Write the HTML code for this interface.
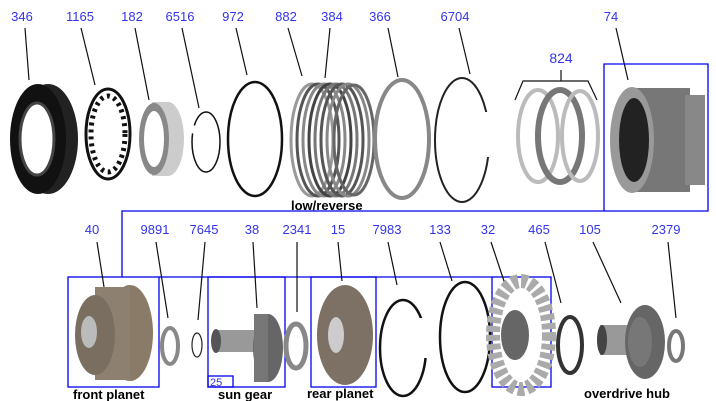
<!DOCTYPE html>
<html><head><meta charset="utf-8"><style>
html,body{margin:0;padding:0;background:#fff;}
svg{display:block;}
.l{font-family:"Liberation Sans",sans-serif;font-size:13px;fill:#3333ee;}
.b{font-family:"Liberation Sans",sans-serif;font-size:13px;font-weight:bold;fill:#000;}
.ld{stroke:#111;stroke-width:1.2;fill:none;}
.bx{stroke:#0000ee;stroke-width:1.3;fill:none;}
</style></head><body>
<svg width="716" height="401" viewBox="0 0 716 401">
<!-- top labels -->
<g class="l" text-anchor="middle">
<text x="22" y="21">346</text><text x="80" y="21">1165</text><text x="132" y="21">182</text>
<text x="180" y="21">6516</text><text x="233" y="21">972</text><text x="286" y="21">882</text>
<text x="332" y="21">384</text><text x="380" y="21">366</text><text x="455" y="21">6704</text>
<text x="561" y="63" style="font-size:14px">824</text><text x="611" y="21">74</text>
</g>
<!-- top leaders -->
<g class="ld">
<line x1="25" y1="28" x2="29" y2="80"/><line x1="81" y1="28" x2="95" y2="85"/>
<line x1="135" y1="28" x2="149" y2="100"/><line x1="182" y1="28" x2="199" y2="108"/>
<line x1="236" y1="28" x2="247" y2="75"/><line x1="288" y1="28" x2="302" y2="76"/>
<line x1="330" y1="28" x2="325" y2="78"/><line x1="388" y1="28" x2="398" y2="77"/>
<line x1="459" y1="28" x2="470" y2="74"/><line x1="616" y1="28" x2="628" y2="80"/>
<polyline points="515,100 523,81 588,81 597,100"/><line x1="561" y1="70" x2="561" y2="81"/>
</g>
<!-- 346 seal -->
<ellipse cx="48" cy="139" rx="30" ry="55" fill="#222"/>
<ellipse cx="38" cy="139" rx="28" ry="55" fill="#111"/>
<ellipse cx="37" cy="139" rx="17" ry="36" fill="#fff" stroke="#444" stroke-width="3"/>
<!-- 1165 -->
<ellipse cx="108" cy="134" rx="22" ry="45" fill="none" stroke="#111" stroke-width="3"/>
<ellipse cx="108" cy="134" rx="17" ry="38" fill="none" stroke="#111" stroke-width="5" stroke-dasharray="3,4"/>
<!-- 182 -->
<ellipse cx="168" cy="139" rx="16" ry="37" fill="#ccc"/>
<rect x="152" y="102" width="16" height="74" fill="#ccc"/>
<ellipse cx="154" cy="139" rx="15" ry="36" fill="#888"/>
<ellipse cx="154" cy="139" rx="10" ry="28" fill="#fff"/>
<!-- 6516 -->
<ellipse cx="206" cy="142" rx="14" ry="30" fill="none" stroke="#111" stroke-width="1.5" stroke-dasharray="80,8"/>
<!-- 972 -->
<ellipse cx="255" cy="139" rx="27" ry="57" fill="none" stroke="#111" stroke-width="2.5"/>
<!-- clutch pack -->
<g fill="none" stroke-width="3">
<ellipse cx="312" cy="140" rx="21" ry="56" stroke="#999"/>
<ellipse cx="318" cy="140" rx="21" ry="56" stroke="#555"/>
<ellipse cx="324" cy="140" rx="21" ry="56" stroke="#888"/>
<ellipse cx="330" cy="140" rx="21" ry="56" stroke="#444"/>
<ellipse cx="336" cy="140" rx="21" ry="56" stroke="#777"/>
<ellipse cx="342" cy="140" rx="21" ry="56" stroke="#555"/>
<ellipse cx="348" cy="140" rx="21" ry="56" stroke="#888"/>
<ellipse cx="354" cy="140" rx="20" ry="55" stroke="#666"/>
</g>
<!-- 366 -->
<ellipse cx="402" cy="139" rx="27" ry="59" fill="none" stroke="#888" stroke-width="4"/>
<!-- 6704 -->
<ellipse cx="462" cy="140" rx="27" ry="62" fill="none" stroke="#222" stroke-width="2"/>
<rect x="480" y="112" width="12" height="45" fill="#fff"/>
<!-- 824 -->
<g fill="none">
<ellipse cx="538" cy="136" rx="20" ry="46" stroke="#bbb" stroke-width="4"/>
<ellipse cx="560" cy="136" rx="22" ry="46" stroke="#777" stroke-width="6"/>
<ellipse cx="580" cy="136" rx="18" ry="45" stroke="#bbb" stroke-width="4"/>
</g>
<!-- 74 drum -->
<rect x="630" y="88" width="60" height="104" fill="#777"/>
<rect x="685" y="95" width="20" height="90" fill="#888"/>
<ellipse cx="632" cy="140" rx="22" ry="53" fill="#999"/>
<ellipse cx="634" cy="140" rx="15" ry="42" fill="#222"/>
<!-- blue lines -->
<g class="bx">
<polyline points="604,211 604,64 708,64 708,211 122,211 122,277"/>
<rect x="68" y="277" width="91" height="110"/>
<rect x="208" y="277" width="77" height="110"/>
<rect x="208" y="376" width="25" height="11"/>
<rect x="311" y="277" width="65" height="110"/>
<rect x="492" y="277" width="59" height="110"/>
<line x1="159" y1="277" x2="492" y2="277"/>
</g>
<text class="l" x="210" y="386" style="font-size:11px">25</text>
<!-- bottom labels -->
<g class="l" text-anchor="middle">
<text x="92" y="234">40</text><text x="155" y="234">9891</text><text x="204" y="234">7645</text>
<text x="252" y="234">38</text><text x="297" y="234">2341</text><text x="338" y="234">15</text>
<text x="387" y="234">7983</text><text x="440" y="234">133</text><text x="488" y="234">32</text>
<text x="539" y="234">465</text><text x="590" y="234">105</text><text x="666" y="234">2379</text>
</g>
<g class="ld">
<line x1="97" y1="242" x2="104" y2="287"/><line x1="156" y1="242" x2="168" y2="318"/>
<line x1="205" y1="242" x2="198" y2="320"/><line x1="253" y1="242" x2="257" y2="308"/>
<line x1="297" y1="242" x2="297" y2="312"/><line x1="338" y1="242" x2="342" y2="281"/>
<line x1="388" y1="242" x2="397" y2="285"/><line x1="440" y1="242" x2="452" y2="281"/>
<line x1="491" y1="242" x2="505" y2="284"/><line x1="545" y1="242" x2="561" y2="303"/>
<line x1="593" y1="242" x2="621" y2="303"/><line x1="668" y1="242" x2="676" y2="318"/>
</g>
<!-- front planet -->
<ellipse cx="130" cy="333" rx="23" ry="48" fill="#8a7a68"/>
<rect x="95" y="287" width="35" height="93" fill="#8d8070"/>
<ellipse cx="95" cy="335" rx="20" ry="40" fill="#7a6e60"/>
<ellipse cx="89" cy="332" rx="8" ry="16" fill="#bbb"/>
<!-- 9891 -->
<ellipse cx="170" cy="346" rx="8" ry="18" fill="none" stroke="#888" stroke-width="4"/>
<!-- 7645 -->
<ellipse cx="197" cy="345" rx="5" ry="12" fill="none" stroke="#222" stroke-width="1.2"/>
<!-- sun gear -->
<rect x="215" y="330" width="40" height="22" fill="#999"/>
<ellipse cx="216" cy="341" rx="5" ry="12" fill="#555"/>
<ellipse cx="268" cy="348" rx="15" ry="34" fill="#666"/>
<rect x="254" y="314" width="14" height="68" fill="#777"/>
<!-- 2341 -->
<ellipse cx="296" cy="346" rx="10" ry="22" fill="none" stroke="#888" stroke-width="5"/>
<!-- rear planet -->
<ellipse cx="345" cy="335" rx="28" ry="50" fill="#7d7064"/>
<ellipse cx="336" cy="335" rx="8" ry="18" fill="#ccc"/>
<!-- 7983 -->
<ellipse cx="403" cy="348" rx="23" ry="48" fill="none" stroke="#111" stroke-width="2.5"/>
<rect x="418" y="318" width="12" height="40" fill="#fff"/>
<!-- 133 -->
<ellipse cx="465" cy="337" rx="25" ry="55" fill="none" stroke="#111" stroke-width="2.5"/>
<!-- 32 -->
<ellipse cx="521" cy="335" rx="28" ry="54" fill="none" stroke="#aaa" stroke-width="14" stroke-dasharray="6,3"/>
<ellipse cx="515" cy="335" rx="14" ry="25" fill="#666"/>
<!-- 465 -->
<ellipse cx="570" cy="345" rx="12" ry="28" fill="none" stroke="#333" stroke-width="4"/>
<!-- 105 -->
<rect x="600" y="325" width="30" height="30" fill="#999"/>
<ellipse cx="602" cy="340" rx="5" ry="15" fill="#444"/>
<ellipse cx="645" cy="342" rx="20" ry="37" fill="#666"/>
<ellipse cx="640" cy="342" rx="12" ry="25" fill="#777"/>
<!-- 2379 -->
<ellipse cx="676" cy="346" rx="7" ry="15" fill="none" stroke="#777" stroke-width="4"/>
<!-- bold captions -->
<text class="b" x="291" y="210">low/reverse</text>
<text class="b" x="73" y="399">front planet</text>
<text class="b" x="218" y="399">sun gear</text>
<text class="b" x="307" y="398">rear planet</text>
<text class="b" x="584" y="398">overdrive hub</text>
</svg>
</body></html>
